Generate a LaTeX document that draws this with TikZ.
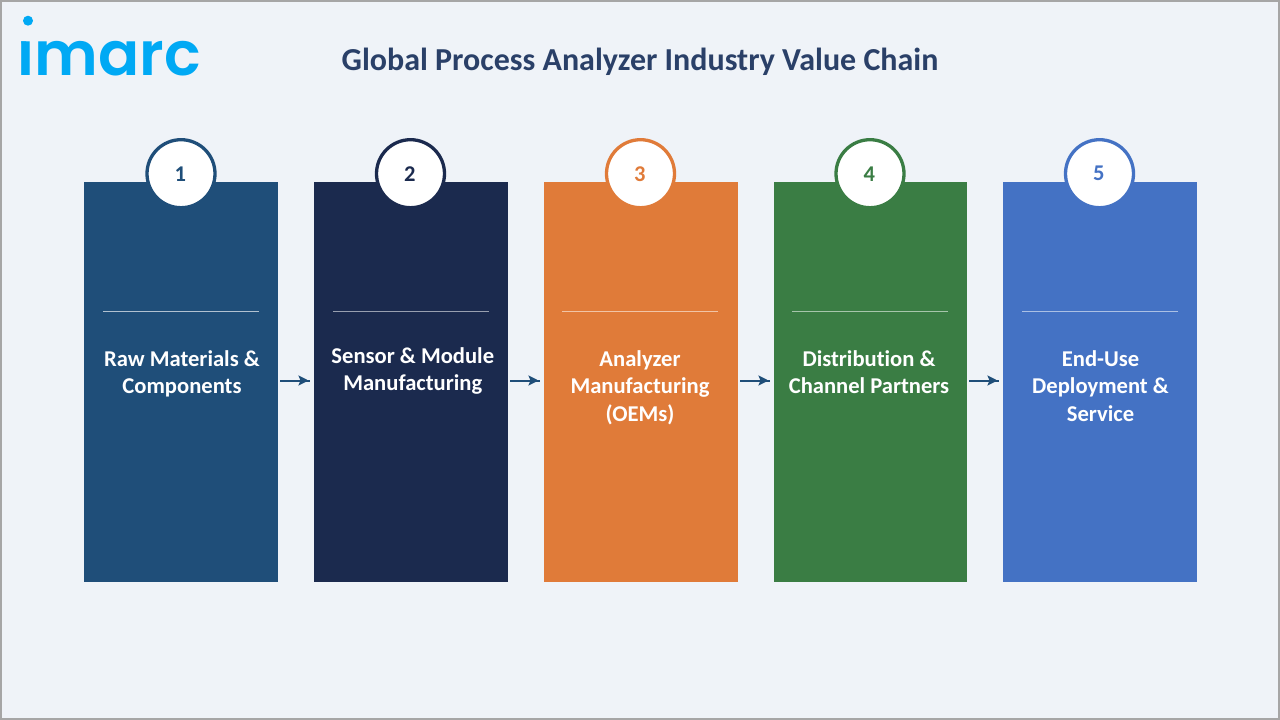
\documentclass[tikz,border=0pt]{standalone}
\usepackage{fontspec}
\setmainfont{Carlito}[Ligatures=CommonOff]
\newfontfamily\logofont{Poppins SemiBold}
\usetikzlibrary{arrows.meta,calc}
\definecolor{bgc}{HTML}{EFF3F8}
\definecolor{framec}{HTML}{A6A6A6}
\definecolor{titlec}{HTML}{2A4068}
\definecolor{logoc}{HTML}{00A9F4}
\definecolor{cA}{HTML}{1F4E79}
\definecolor{cB}{HTML}{1B2A4E}
\definecolor{cC}{HTML}{E07B39}
\definecolor{cD}{HTML}{3A7D44}
\definecolor{cE}{HTML}{4472C4}
\definecolor{arrowc}{HTML}{1F4E79}
\tikzset{
  x=1pt,y=-1pt,
  stage/.style={fill=#1,draw=none,minimum width=193.3pt,minimum height=400pt,inner sep=0pt,anchor=north west},
  badge/.style={circle,fill=white,draw=#1,line width=3.3pt,minimum size=68pt,inner sep=0pt,text=#1,font=\fontsize{22.5}{24}\selectfont\bfseries},
  stagetext/.style={text=white,align=center,font=\fontsize{22.6}{27.6}\selectfont\bfseries,anchor=north,inner sep=0pt},
  rulel/.style={draw=#1,line width=0.8pt},
  flowline/.style={draw=arrowc,line width=2pt},
  flowhead/.style={draw=arrowc,line width=2pt,-{Stealth[length=10pt,width=10pt,inset=2pt]}},
}
\begin{document}
\begin{tikzpicture}
\useasboundingbox (0,0) rectangle (1280,720);
\fill[framec] (0,0) rectangle (1280,720);
\fill[bgc] (2,2) rectangle (1278,718);
\node[anchor=center,inner sep=0pt,text=titlec,font=\fontsize{32}{34}\selectfont\bfseries] (title) at (640,61.5) {Global Process Analyzer Industry Value Chain};
\node[anchor=base west,inner sep=0pt,text=logoc,font=\logofont\fontsize{60.8}{60}\selectfont] (logo) at (17.5,75) {imarc};
\fill[bgc] (18,14) rectangle (38,40.5);
\fill[logoc] (28,20.7) circle (5);
\fill[logoc] (21,41.3) -- (26,41.3) -- (26,47) -- (23,47) -- cycle;
%
\node[stage=cA] (s1) at (84,182) {};
\node[stage=cB] (s2) at (314,182) {};
\node[stage=cC] (s3) at (544,182) {};
\node[stage=cD] (s4) at (773.3,182) {};
\node[stage=cE] (s5) at (1003,182) {};
%
\node[badge=cA] (b1) at (181,173.7) {1\kern1.5pt};
\node[badge=cB] (b2) at (410.5,173.7) {2\kern1.5pt};
\node[badge=cC] (b3) at (640.5,173.7) {3\kern1.5pt};
\node[badge=cD] (b4) at (870,173.7) {4\kern1.5pt};
\node[badge=cE] (b5) at (1099.5,173.7) {5\kern1.5pt};
%
\draw[rulel=white!65!cA] (103,311.5) -- (259,311.5);
\draw[rulel=white!55!cB] (333,311.5) -- (489,311.5);
\draw[rulel=white!55!cC] (562,311.5) -- (718,311.5);
\draw[rulel=white!55!cD] (792,311.5) -- (948,311.5);
\draw[rulel=white!55!cE] (1022,311.5) -- (1178,311.5);
%
\node[stagetext] (t1) at (182,350) {Raw Materials \&\\Components};
\node[stagetext] (t2) at (412.8,347) {Sensor \& Module\\Manufacturing};
\node[stagetext] (t3) at (640,350) {Analyzer\\Manufacturing\\(OEMs)};
\node[stagetext] (t4) at (869,350) {Distribution \&\\Channel Partners};
\node[stagetext] (t5) at (1100.5,350) {End-Use\\Deployment \&\\Service};
%
\coordinate (a1) at (280,380.5); \coordinate (a1e) at (310,380.5);
\coordinate (a2) at (510,380.5); \coordinate (a2e) at (540,380.5);
\coordinate (a3) at (740,380.5); \coordinate (a3e) at (770,380.5);
\coordinate (a4) at (969,380.5); \coordinate (a4e) at (999,380.5);
\foreach \p/\q in {a1/a1e,a2/a2e,a3/a3e,a4/a4e}{
  \draw[flowline] (\p) -- (\q);
  \draw[flowhead] (\p) -- ($(\q)+(-1.5,0)$);
}
\end{tikzpicture}
\end{document}
